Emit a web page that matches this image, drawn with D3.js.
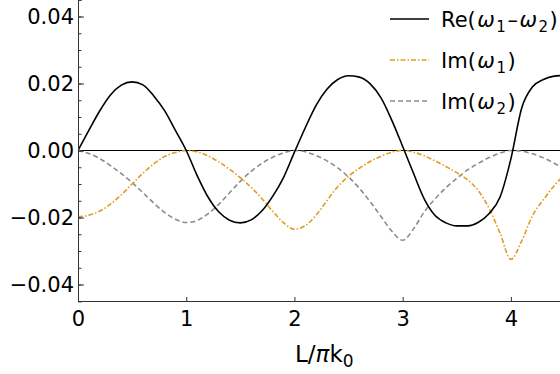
<!DOCTYPE html>
<html>
<head>
  <meta charset="utf-8">
  <script src="https://d3js.org/d3.v7.min.js"></script>
  <style>
    body { margin: 0; background: #fff; }
    svg { display: block; }
    .axis path, .axis line { stroke: #333; stroke-width: 1px; }
  </style>
</head>
<body>
  <script>
    // L / pi k0 grid
    var L = [0, 0.1, 0.2, 0.3, 0.4, 0.5, 0.6, 0.7, 0.8, 0.9,
             1.0, 1.1, 1.2, 1.3, 1.4, 1.5, 1.6, 1.7, 1.8, 1.9,
             2.0, 2.1, 2.2, 2.3, 2.4, 2.5, 2.6, 2.7, 2.8, 2.9,
             3.0, 3.1, 3.2, 3.3, 3.4, 3.5, 3.6, 3.7, 3.8, 3.9,
             4.0, 4.1, 4.2, 4.3, 4.4, 4.5];

    // Re(w1 - w2)
    var reDiff = [0, 0.0060, 0.0118, 0.0166, 0.0195, 0.0205, 0.0196, 0.0163, 0.0119, 0.0060,
                  0, -0.0074, -0.0138, -0.0183, -0.0208, -0.0216, -0.0207, -0.0180, -0.0136, -0.0080,
                  -0.0005, 0.0068, 0.0135, 0.0183, 0.0212, 0.0223, 0.0219, 0.0199, 0.0157, 0.0090,
                  0.0012, -0.0068, -0.0145, -0.0194, -0.0216, -0.0225, -0.0225, -0.0214, -0.0188, -0.0139,
                  -0.0025, 0.0127, 0.0190, 0.0212, 0.0222, 0.0224];

    // Im(w1)
    var imW1 = [-0.0198, -0.0193, -0.0181, -0.0160, -0.0132, -0.0100, -0.0068, -0.0040, -0.0018, -0.0006,
                0, -0.0004, -0.0016, -0.0034, -0.0056, -0.0081, -0.0110, -0.0144, -0.0182, -0.0216,
                -0.0235, -0.0224, -0.0193, -0.0150, -0.0108, -0.0077, -0.0053, -0.0033, -0.0017, -0.0005,
                0, -0.0005, -0.0016, -0.0031, -0.0048, -0.0066, -0.0088, -0.0120, -0.0174, -0.0247,
                -0.0325, -0.0270, -0.0194, -0.0147, -0.0105, -0.0072];

    // Im(w2)
    var imW2 = [0, -0.0009, -0.0024, -0.0045, -0.0069, -0.0096, -0.0126, -0.0157, -0.0185, -0.0205,
                -0.0215, -0.0209, -0.0189, -0.0161, -0.0126, -0.0092, -0.0062, -0.0038, -0.0020, -0.0007,
                0, -0.0004, -0.0015, -0.0031, -0.0052, -0.0079, -0.0113, -0.0153, -0.0197, -0.0241,
                -0.0268, -0.0234, -0.0183, -0.0144, -0.0111, -0.0083, -0.0058, -0.0038, -0.0021, -0.0008,
                0, -0.0002, -0.0010, -0.0022, -0.0038, -0.0057];

    var xTicks = [0, 1, 2, 3, 4];
    var yTicks = [-0.04, -0.02, 0, 0.02, 0.04];
    var yMinor = d3.range(-0.045, 0.0451, 0.005);

    var width = 560, height = 374;
    var left = 78, bottom = 301;
    var font = "'DejaVu Sans'";

    var svg = d3.select("body").append("svg")
        .attr("width", width)
        .attr("height", height);

    var x = d3.scaleLinear().domain([0, 4.5]).range([left, 565]);
    var y = d3.scaleLinear().domain([-0.045, 0.045]).range([301.25, -0.25]);

    svg.append("clipPath").attr("id", "plot")
      .append("rect")
        .attr("x", left).attr("y", -1)
        .attr("width", 565 - left).attr("height", bottom + 1);

    var plot = svg.append("g").attr("clip-path", "url(#plot)");

    // zero line
    plot.append("line")
        .attr("x1", x(0)).attr("x2", x(4.5))
        .attr("y1", y(0)).attr("y2", y(0))
        .attr("stroke", "#000").attr("stroke-width", 1.2);

    var series = [
      { vals: imW2, color: "#8c8c8c", dash: "5,3", w: 1.6 },
      { vals: imW1, color: "#e19c24", dash: "5,2,1.5,2", w: 1.6 },
      { vals: reDiff, color: "#000", dash: null, w: 1.6 }
    ];

    var line = d3.line()
        .x(function(d) { return x(d[0]); })
        .y(function(d) { return y(d[1]); })
        .curve(d3.curveMonotoneX);

    series.forEach(function(s) {
      plot.append("path")
          .datum(L.map(function(l, i) { return [l, s.vals[i]]; }))
          .attr("d", line)
          .attr("fill", "none")
          .attr("stroke", s.color)
          .attr("stroke-width", s.w)
          .attr("stroke-dasharray", s.dash);
    });

    // axes, ticks pointing inward
    var fmt = function(d) { return d3.format(".2f")(d).replace("-", "\u2212"); };

    svg.append("g")
        .attr("class", "axis")
        .attr("transform", "translate(" + left + ",0)")
        .call(d3.axisLeft(y).tickValues(yMinor).tickSize(-3.5).tickFormat(""));
    svg.append("g")
        .attr("class", "axis")
        .attr("transform", "translate(" + left + ",0)")
        .call(d3.axisLeft(y).tickValues(yTicks).tickSizeInner(-6).tickSizeOuter(0)
              .tickPadding(4).tickFormat(fmt));

    svg.append("g")
        .attr("class", "axis")
        .attr("transform", "translate(0," + bottom + ")")
        .call(d3.axisBottom(x).tickValues(xTicks).tickSizeInner(-4).tickSizeOuter(0)
              .tickPadding(10).tickFormat(d3.format("d")));

    svg.selectAll(".axis .domain").attr("stroke-width", 1.2);
    svg.selectAll(".axis text").style("font-size", "21px").attr("fill", "#000");

    // x label
    var xl = svg.append("text")
        .attr("x", 295).attr("y", 362)
        .style("font-size", "23px");
    xl.append("tspan").text("L/");
    xl.append("tspan").style("font-style", "italic").text("\u03c0");
    xl.append("tspan").text("k");
    xl.append("tspan").attr("dy", 5).style("font-size", "17px").text("0");

    // legend
    var legendRows = [
      { parts: [["Re(", 0], ["\u03c9", 2], ["1", 1], ["\u2013", 0], ["\u03c9", 2], ["2", 1], [")", 0]], s: series[2] },
      { parts: [["Im(", 0], ["\u03c9", 2], ["1", 1], [")", 0]], s: series[1] },
      { parts: [["Im(", 0], ["\u03c9", 2], ["2", 1], [")", 0]], s: series[0] }
    ];
    var lg = svg.append("g").attr("class", "legend");
    legendRows.forEach(function(r, i) {
      var yy = 19 + i * 41;
      lg.append("line")
          .attr("x1", 390).attr("x2", 429)
          .attr("y1", yy).attr("y2", yy)
          .attr("stroke", r.s.color)
          .attr("stroke-width", r.s.w)
          .attr("stroke-dasharray", r.s.dash);
      var t = lg.append("text").attr("x", 441).attr("y", yy + 8)
          .style("font-size", "21px");
      var sub = 0;
      r.parts.forEach(function(p) {
        var ts = t.append("tspan").text(p[0]);
        if (p[1] === 2) {
          ts.style("font-style", "italic").attr("dx", 1.5);
          if (sub) { ts.attr("dy", -5); sub = 0; }
        } else if (p[1] === 1) {
          ts.style("font-size", "15px").attr("dx", 1.5);
          if (!sub) { ts.attr("dy", 5); sub = 1; }
        } else if (sub) {
          ts.attr("dy", -5).attr("dx", 1.5); sub = 0;
        }
      });
    });

    svg.selectAll("text").style("font-family", font);
  </script>
</body>
</html>
